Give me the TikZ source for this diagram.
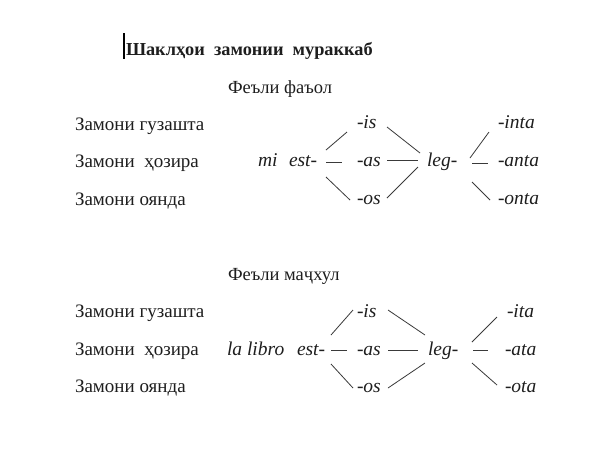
\documentclass[tikz,border=0pt]{standalone}
\usepackage{fontspec}
\setmainfont{Liberation Serif}
\usetikzlibrary{calc}
\definecolor{ink}{HTML}{1E1E1E}
\definecolor{wire}{HTML}{3A3A3A}
\begin{document}
\begin{tikzpicture}[x=1pt,y=-1pt,
  every node/.style={inner sep=0pt,outer sep=0pt,text=ink},
  lbl/.style={anchor=base west,font=\fontsize{19}{21}\selectfont},
  head/.style={anchor=base west,font=\fontsize{18.5}{20}\selectfont},
  it/.style={anchor=base west,font=\fontsize{19.5}{21}\selectfont\itshape},
  wireline/.style={draw=wire,line width=0.8pt}]
\useasboundingbox[fill=white] (0,0) rectangle (605,456);
% title
\coordinate (cursorTop) at (124,33);
\coordinate (cursorBot) at (124,59);
\draw[line width=1.1pt,black] (cursorTop) -- (cursorBot);
\node[anchor=base west,font=\fontsize{18.3}{20}\selectfont\bfseries] (title) at (126,55) {Шаклҳои\hspace{0.5em}замонии\hspace{0.5em}мураккаб};
% ---------- top section
\node[head] (h1) at (228,93) {Феъли фаъол};
\node[lbl] (r1) at (75,130) {Замони гузашта};
\node[lbl] (r2) at (75,167) {Замони\ \ ҳозира};
\node[lbl] (r3) at (75,205) {Замони оянда};
\node[it] (mi) at (258,166) {mi};
\node[it] (estA) at (289,166) {est-};
\node[it] (isA) at (357,128) {-is};
\node[it] (asA) at (357,166) {-as};
\node[it] (osA) at (357,204) {-os};
\node[it] (legA) at (427,166) {leg-};
\node[it] (intaA) at (498,128) {-inta};
\node[it] (antaA) at (498,166) {-anta};
\node[it] (ontaA) at (498,204) {-onta};
\draw[wireline] ($(estA.base west)+(37,-16)$) -- ($(isA.base west)+(-10,4)$);
\draw[wireline] ($(estA.base west)+(37,-4)$) -- ($(asA.base west)+(-15,-4)$);
\draw[wireline] ($(estA.base west)+(37,11)$) -- ($(osA.base west)+(-7,-4)$);
\draw[wireline] ($(isA.base west)+(30,-1)$) -- ($(legA.base west)+(-7,-13)$);
\draw[wireline] ($(asA.base west)+(30,-6)$) -- ($(legA.base west)+(-9,-6)$);
\draw[wireline] ($(osA.base west)+(30,-6)$) -- ($(legA.base west)+(-9,1)$);
\draw[wireline] ($(legA.base west)+(43,-8)$) -- ($(intaA.base west)+(-9,4)$);
\draw[wireline] ($(legA.base west)+(45,-3)$) -- ($(antaA.base west)+(-10,-3)$);
\draw[wireline] ($(legA.base west)+(45,16)$) -- ($(ontaA.base west)+(-8,-4)$);
% ---------- bottom section
\node[head] (h2) at (228,280) {Феъли маҷхул};
\node[lbl] (s1) at (75,317) {Замони гузашта};
\node[lbl] (s2) at (75,355) {Замони\ \ ҳозира};
\node[lbl] (s3) at (75,392) {Замони оянда};
\node[it] (lalibro) at (227,355) {la libro};
\node[it] (estB) at (297,355) {est-};
\node[it] (isB) at (357,317) {-is};
\node[it] (asB) at (357,355) {-as};
\node[it] (osB) at (357,392) {-os};
\node[it] (legB) at (428,355) {leg-};
\node[it] (itaB) at (507,317) {-ita};
\node[it] (ataB) at (505,355) {-ata};
\node[it] (otaB) at (505,392) {-ota};
\draw[wireline] ($(estB.base west)+(34,-20)$) -- ($(isB.base west)+(-4,-7)$);
\draw[wireline] ($(estB.base west)+(34,-5)$) -- ($(asB.base west)+(-10,-5)$);
\draw[wireline] ($(estB.base west)+(34,9)$) -- ($(osB.base west)+(-4,-4)$);
\draw[wireline] ($(isB.base west)+(31,-7)$) -- ($(legB.base west)+(-3,-20)$);
\draw[wireline] ($(asB.base west)+(31,-5)$) -- ($(legB.base west)+(-10,-5)$);
\draw[wireline] ($(osB.base west)+(31,-4)$) -- ($(legB.base west)+(-3,8)$);
\draw[wireline] ($(legB.base west)+(44,-13)$) -- ($(itaB.base west)+(-10,0)$);
\draw[wireline] ($(legB.base west)+(45,-5)$) -- ($(ataB.base west)+(-17,-5)$);
\draw[wireline] ($(legB.base west)+(44,8)$) -- ($(otaB.base west)+(-8,-7)$);
\end{tikzpicture}
\end{document}
